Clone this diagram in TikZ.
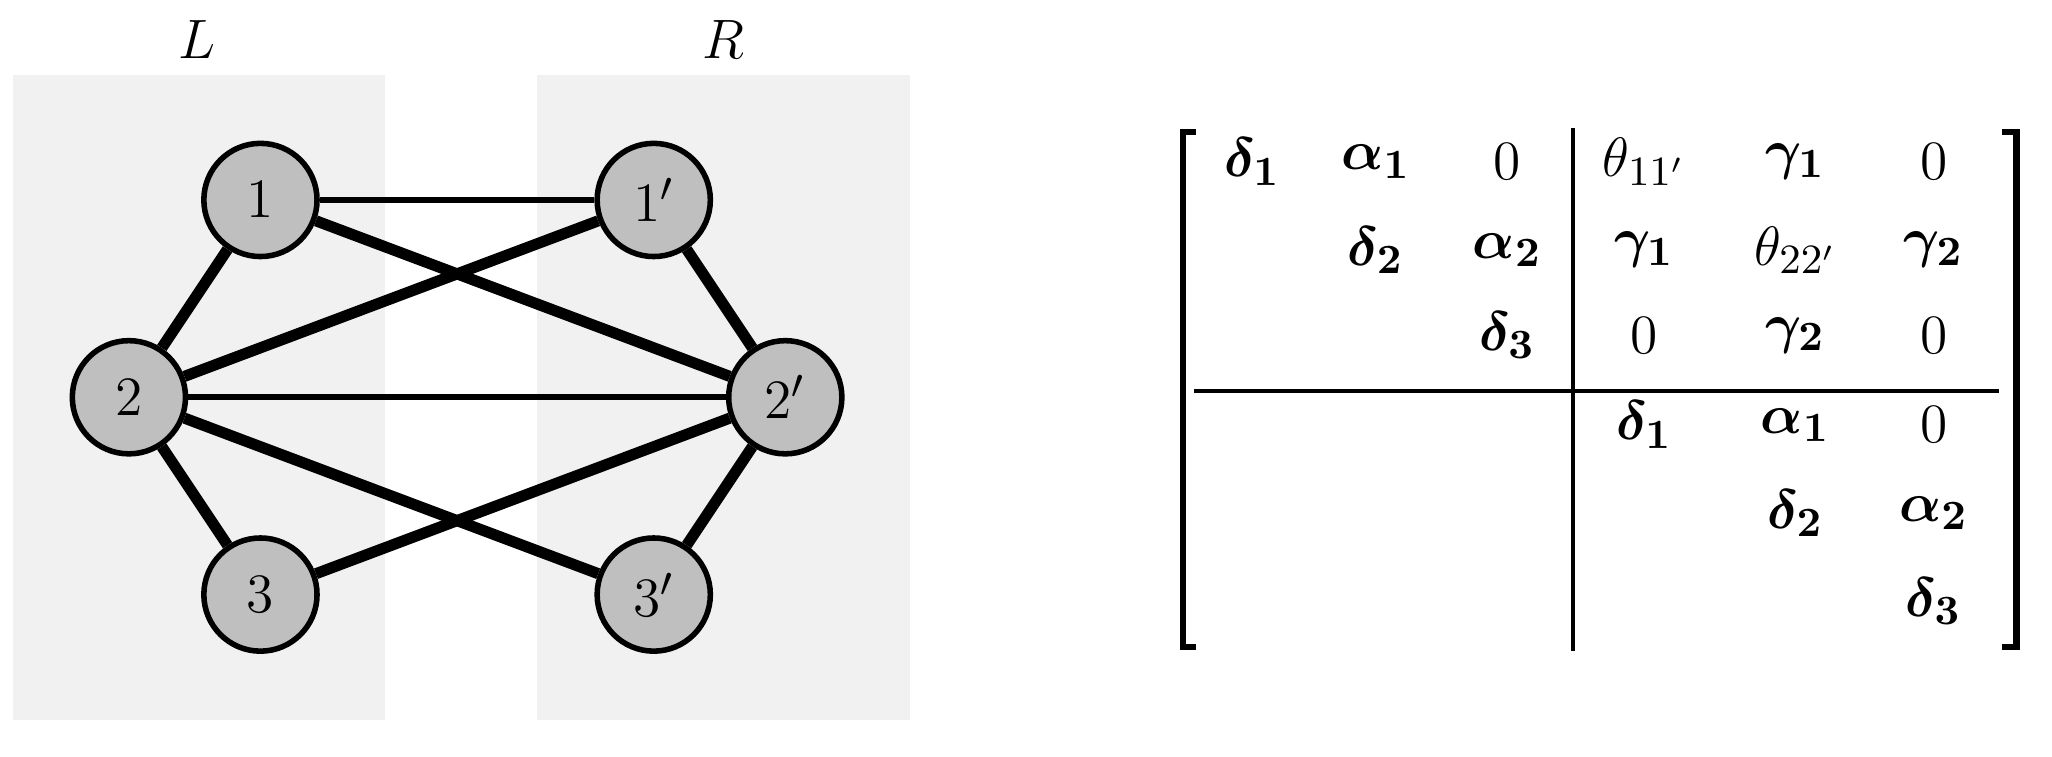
\documentclass[tikz,border=0pt]{standalone}
\usepackage{amsmath,amssymb,bm}
\usetikzlibrary{positioning}
\tikzset{
  vert/.style={circle, draw, line width=1.2pt, fill=gray!50, minimum size=0.86cm, inner sep=0pt, font=\fontsize{13}{15}\selectfont},
  thin edge/.style={line width=1.3pt},
  thick edge/.style={line width=2.4pt},
  entry/.style={font=\fontsize{13}{15}\selectfont}
}
\begin{document}
\begin{tikzpicture}[x=0.01cm, y=-0.01cm]
    \useasboundingbox (0,0) rectangle (1560,575);
    % Sides
    \fill [gray!11] (10,57) rectangle (293,547);
    \fill [gray!11] (408,57) rectangle (692,547);
    \node [entry] (lblL) at (150,30) {$L$};
    \node [entry] (lblR) at (550,30) {$R$};

    % Nodes
    \node [vert] (n1)  at (198,152) {$1$};
    \node [vert] (n2)  at (98,302)  {$2$};
    \node [vert] (n3)  at (198,452) {$3$};
    \node [vert] (m1)  at (497,152) {$1'$};
    \node [vert] (m2)  at (597,302) {$2'$};
    \node [vert] (m3)  at (497,452) {$3'$};

    % Paths
    \path [thin edge]  (n1) edge (m1);
    \path [thin edge]  (n2) edge (m2);
    \path [thick edge] (n1) edge (n2);
    \path [thick edge] (n2) edge (n3);
    \path [thick edge] (m1) edge (m2);
    \path [thick edge] (m2) edge (m3);
    \path [thick edge] (n1) edge (m2);
    \path [thick edge] (n2) edge (m1);
    \path [thick edge] (n2) edge (m3);
    \path [thick edge] (n3) edge (m2);

    % Matrix
    \draw [line width=1.3pt] (909,100) -- (899,100) -- (899,492) -- (909,492);
    \draw [line width=1.3pt] (1522,100) -- (1533,100) -- (1533,492) -- (1522,492);
    \draw [line width=0.9pt] (1196,97) -- (1196,495);
    \draw [line width=0.9pt] (908,297) -- (1520,297);

    \node [entry] (a11) at (952,123)  {$\bm{\delta_1}$};
    \node [entry] (a12) at (1046,123) {$\bm{\alpha_1}$};
    \node [entry] (a13) at (1146,123) {$0$};
    \node [entry] (a14) at (1250,123) {$\theta_{11'}$};
    \node [entry] (a15) at (1365,123) {$\bm{\gamma_1}$};
    \node [entry] (a16) at (1470,123) {$0$};

    \node [entry] (a22) at (1046,190) {$\bm{\delta_2}$};
    \node [entry] (a23) at (1146,190) {$\bm{\alpha_2}$};
    \node [entry] (a24) at (1250,190) {$\bm{\gamma_1}$};
    \node [entry] (a25) at (1365,190) {$\theta_{22'}$};
    \node [entry] (a26) at (1470,190) {$\bm{\gamma_2}$};

    \node [entry] (a33) at (1146,255) {$\bm{\delta_3}$};
    \node [entry] (a34) at (1250,255) {$0$};
    \node [entry] (a35) at (1365,255) {$\bm{\gamma_2}$};
    \node [entry] (a36) at (1470,255) {$0$};

    \node [entry] (a44) at (1250,323) {$\bm{\delta_1}$};
    \node [entry] (a45) at (1365,323) {$\bm{\alpha_1}$};
    \node [entry] (a46) at (1470,323) {$0$};

    \node [entry] (a55) at (1365,390) {$\bm{\delta_2}$};
    \node [entry] (a56) at (1470,390) {$\bm{\alpha_2}$};

    \node [entry] (a66) at (1470,457) {$\bm{\delta_3}$};
\end{tikzpicture}
\end{document}
